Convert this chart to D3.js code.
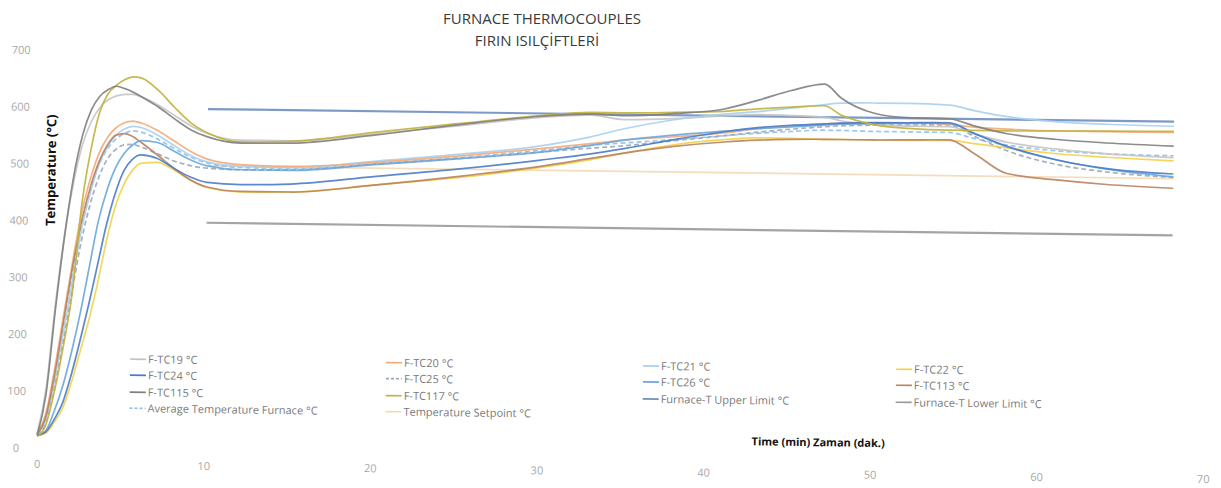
<!DOCTYPE html>
<html>
<head>
<meta charset="utf-8">
<script src="https://cdn.jsdelivr.net/npm/d3@7/dist/d3.min.js"></script>
<style>
body { margin: 0; background: #fff; }
svg { display: block; }
</style>
</head>
<body>
<div id="chart"></div>
<script>

// ---------- Data

var minutes = [0, 0.5, 1, 1.5, 2, 2.5, 3, 3.5, 4, 4.5, 5, 5.5, 6, 7, 8, 9, 10, 12, 15, 20, 25, 30, 33, 35, 38, 41, 43, 45, 47, 48, 50, 52, 54.5, 56, 58, 61, 64, 68];

var tc19  = [26, 105, 255, 380, 470, 535, 575, 600, 614, 621, 624, 624, 620, 606, 588, 570, 557, 546, 546, 560, 576, 593, 598, 591, 594, 600, 603, 602, 600, 594, 588, 586, 586, 574, 560, 549, 542, 537];
var tc20  = [25, 60, 140, 235, 330, 415, 475, 520, 548, 565, 574, 577, 574, 561, 543, 525, 512, 503, 501, 510, 523, 538, 548, 555, 562, 570, 578, 584, 588, 590, 592, 592, 590, 586, 583, 581, 581, 581];
var tc21  = [24, 50, 120, 205, 295, 385, 450, 500, 532, 552, 563, 568, 566, 553, 535, 518, 507, 500, 499, 512, 526, 543, 560, 575, 592, 603, 608, 615, 622, 625, 626, 626, 624, 615, 605, 597, 594, 592];
var tc22  = [22, 26, 45, 70, 115, 170, 225, 290, 365, 425, 465, 490, 503, 505, 492, 475, 462, 455, 456, 470, 485, 505, 520, 532, 548, 558, 562, 562, 561, 561, 561, 561, 562, 557, 550, 541, 536, 531];
var tc24  = [22, 28, 50, 80, 130, 190, 255, 325, 395, 450, 490, 510, 518, 512, 495, 480, 471, 468, 470, 485, 500, 518, 530, 540, 557, 572, 580, 585, 588, 590, 591, 592, 593, 575, 553, 530, 516, 508];
var tc25  = [23, 45, 110, 190, 280, 365, 430, 478, 510, 527, 535, 536, 532, 520, 508, 500, 496, 494, 495, 507, 519, 532, 540, 545, 555, 565, 572, 578, 583, 585, 587, 588, 589, 570, 545, 522, 510, 502];
var tc26  = [22, 30, 65, 110, 170, 240, 320, 400, 455, 495, 520, 535, 543, 540, 525, 510, 500, 494, 494, 506, 518, 532, 545, 555, 565, 573, 578, 582, 586, 588, 590, 591, 592, 575, 552, 530, 515, 503];
var tc113 = [24, 55, 130, 225, 320, 400, 460, 505, 535, 552, 555, 550, 540, 518, 495, 475, 463, 456, 456, 470, 487, 507, 522, 532, 545, 554, 558, 560, 561, 561, 561, 562, 563, 540, 505, 495, 488, 483];
var tc115 = [22, 95, 245, 375, 480, 552, 596, 620, 632, 638, 634, 628, 620, 603, 582, 563, 551, 541, 542, 558, 578, 595, 600, 598, 603, 612, 628, 646, 658, 634, 608, 601, 600, 588, 575, 566, 561, 557];
var tc117 = [20, 40, 100, 180, 275, 430, 525, 592, 625, 640, 650, 655, 653, 632, 602, 575, 558, 543, 545, 563, 580, 596, 603, 603, 605, 608, 613, 617, 620, 604, 588, 582, 580, 580, 580, 581, 582, 583];
var avgFurnace = [24, 55, 130, 220, 310, 395, 455, 500, 528, 545, 555, 560, 558, 546, 530, 515, 505, 498, 497, 508, 520, 535, 545, 550, 557, 565, 570, 574, 577, 577, 576, 576, 576, 566, 555, 546, 542, 540];

var limitMinutes = [10, 68];
var upperLimit = [600, 600];
var lowerLimit = [400, 400];
var setpoint = [500, 500];

var xTicks = [0, 10, 20, 30, 40, 50, 60, 70];
var yTicks = [0, 100, 200, 300, 400, 500, 600, 700];

var seriesNames = ["F-TC19 °C", "F-TC20 °C", "F-TC21 °C", "F-TC22 °C",
	"F-TC24 °C", "F-TC25 °C", "F-TC26 °C", "F-TC113 °C",
	"F-TC115 °C", "F-TC117 °C", "Furnace-T Upper Limit °C", "Furnace-T Lower Limit °C",
	"Average Temperature Furnace °C", "Temperature Setpoint °C"];

// ---------- Series table (legend order)

var series = [
	{ name: seriesNames[0],  t: minutes, v: tc19,  color: "#c4c4c4", dash: null },
	{ name: seriesNames[1],  t: minutes, v: tc20,  color: "#f2aa78", dash: null },
	{ name: seriesNames[2],  t: minutes, v: tc21,  color: "#a9d0f0", dash: null },
	{ name: seriesNames[3],  t: minutes, v: tc22,  color: "#f3d24a", dash: null },
	{ name: seriesNames[4],  t: minutes, v: tc24,  color: "#4a7cc9", dash: null },
	{ name: seriesNames[5],  t: minutes, v: tc25,  color: "#9aa7b8", dash: "5,3" },
	{ name: seriesNames[6],  t: minutes, v: tc26,  color: "#6aa6dd", dash: null },
	{ name: seriesNames[7],  t: minutes, v: tc113, color: "#b98260", dash: null },
	{ name: seriesNames[8],  t: minutes, v: tc115, color: "#808080", dash: null },
	{ name: seriesNames[9],  t: minutes, v: tc117, color: "#c2b13a", dash: null },
	{ name: seriesNames[10], t: limitMinutes, v: upperLimit, color: "#6f8fc0", dash: null, width: 2.2 },
	{ name: seriesNames[11], t: limitMinutes, v: lowerLimit, color: "#9a9a9a", dash: null, width: 2.2 },
	{ name: seriesNames[12], t: minutes, v: avgFurnace, color: "#8fc0ea", dash: "5,3" },
	{ name: seriesNames[13], t: limitMinutes, v: setpoint, color: "#f3d9b5", dash: null }
];

// draw order: limits and setpoint under the thermocouples
var drawOrder = [13, 11, 10, 12, 5, 0, 2, 3, 1, 7, 6, 4, 9, 8];

// ---------- Layout

var width = 1221, height = 488;
var tilt = 0.75; // the source page is scanned slightly askew

var x = d3.scaleLinear().domain([0, 70]).range([37, 1203]);
var y = d3.scaleLinear().domain([0, 700]).range([448, 50]);

var svg = d3.select("#chart").append("svg")
	.attr("width", width)
	.attr("height", height)
	.style("font-family", "'Open Sans', 'DejaVu Sans', sans-serif");

// title
var title = svg.append("g").attr("fill", "#3a3a3a").attr("text-anchor", "middle")
	.style("font-size", "15px");
title.append("text").attr("x", 542).attr("y", 24).text("FURNACE THERMOCOUPLES");
title.append("text").attr("x", 537).attr("y", 46).text("FIRIN ISILÇİFTLERİ");

var plot = svg.append("g").attr("transform", `rotate(${tilt}, 37, 448)`);

// axes
var xAxis = plot.append("g")
	.attr("transform", "translate(0, 448)")
	.call(d3.axisBottom(x).tickValues(xTicks).tickSize(0).tickPadding(12));
xAxis.select(".domain").remove();
xAxis.selectAll("text").attr("fill", "#a8a8a8").style("font-size", "11px")
	.style("font-family", "'Open Sans', sans-serif");

var yAxis = plot.append("g")
	.attr("transform", "translate(16, 0)")
	.call(d3.axisLeft(y).tickValues(yTicks).tickSize(0).tickPadding(0));
yAxis.select(".domain").remove();
yAxis.selectAll("text").attr("fill", "#a8a8a8").attr("text-anchor", "middle")
	.style("font-size", "11px").style("font-family", "'Open Sans', sans-serif");

// axis titles
plot.append("text")
	.attr("transform", "translate(52, 170) rotate(-90)")
	.attr("text-anchor", "middle")
	.attr("fill", "#111")
	.style("font-size", "13px").style("font-weight", "bold")
	.text("Temperature (°C)");

plot.append("text")
	.attr("x", 818).attr("y", 436)
	.attr("text-anchor", "middle")
	.attr("fill", "#111")
	.style("font-size", "11px").style("font-weight", "bold")
	.text("Time (min) Zaman (dak.)");

// lines
var line = d3.line()
	.x(d => x(d[0]))
	.y(d => y(d[1]))
	.curve(d3.curveMonotoneX);

plot.append("g").selectAll("path")
	.data(drawOrder.map(i => series[i]))
	.enter()
	.append("path")
	.attr("d", s => line(s.t.map((t, i) => [t, s.v[i]])))
	.attr("fill", "none")
	.attr("stroke", s => s.color)
	.attr("stroke-width", s => s.width || 1.7)
	.attr("stroke-dasharray", s => s.dash)
	.attr("stroke-linejoin", "round")
	.attr("opacity", 0.9);

// legend, 4 columns row by row
var legendX = [147, 403, 660, 913];
var legendY = [358, 374, 391, 407];

var legend = plot.append("g").selectAll("g.item")
	.data(series)
	.enter()
	.append("g")
	.classed("item", true)
	.attr("transform", (s, i) => `translate(${legendX[i % 4]}, ${legendY[Math.floor(i / 4)]})`);

legend.append("line")
	.attr("x1", -18).attr("x2", -2)
	.attr("y1", 0).attr("y2", 0)
	.attr("stroke", s => s.color)
	.attr("stroke-width", 1.7)
	.attr("stroke-dasharray", s => s.dash ? "3,2" : null);

legend.append("text")
	.attr("x", 0).attr("dy", "0.35em")
	.attr("fill", "#7a7a7a")
	.style("font-size", "11px")
	.text(s => s.name);

</script>
</body>
</html>
